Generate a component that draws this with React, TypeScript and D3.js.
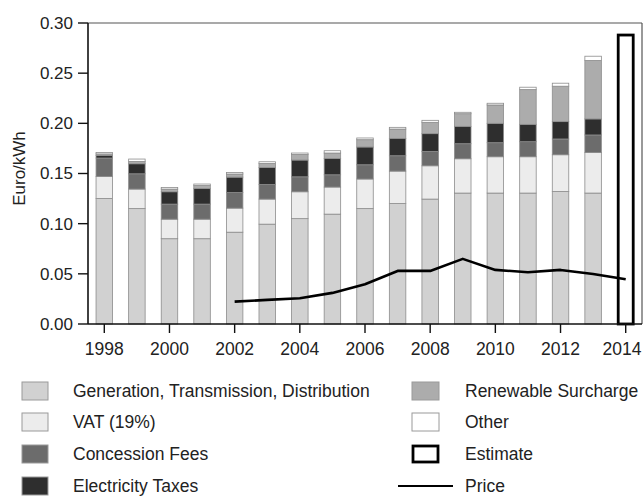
import React from "react";
import * as d3 from "d3";

const years = [1998, 1999, 2000, 2001, 2002, 2003, 2004, 2005, 2006, 2007, 2008, 2009, 2010, 2011, 2012, 2013];
const generation = [0.125, 0.115, 0.085, 0.085, 0.0915, 0.0995, 0.105, 0.1095, 0.115, 0.12, 0.1245, 0.1305, 0.1305, 0.1305, 0.132, 0.1305];
const vat = [0.022, 0.0195, 0.0195, 0.0195, 0.024, 0.025, 0.0268, 0.027, 0.0295, 0.0324, 0.0332, 0.0342, 0.0362, 0.0362, 0.0367, 0.0405];
const concession = [0.0184, 0.0152, 0.015, 0.015, 0.0155, 0.0145, 0.0149, 0.0122, 0.0142, 0.0153, 0.0143, 0.015, 0.014, 0.015, 0.0157, 0.0174];
const electricityTax = [0.0026, 0.01, 0.0123, 0.0155, 0.0154, 0.017, 0.0167, 0.0163, 0.0177, 0.0173, 0.0177, 0.0173, 0.0193, 0.0173, 0.0173, 0.016];
const renewable = [0.0015, 0.0023, 0.0027, 0.003, 0.0031, 0.004, 0.0056, 0.0054, 0.0073, 0.0093, 0.0113, 0.0126, 0.0183, 0.0346, 0.0353, 0.0582];
const other = [0.0015, 0.0024, 0.0015, 0.0015, 0.0015, 0.0017, 0.0014, 0.0023, 0.0017, 0.0017, 0.002, 0.0014, 0.0017, 0.0024, 0.003, 0.0043];

const priceYears = [2002, 2003, 2004, 2005, 2006, 2007, 2008, 2009, 2010, 2011, 2012, 2013, 2014];
const priceValues = [0.0223, 0.024, 0.0257, 0.031, 0.0396, 0.0529, 0.0529, 0.0649, 0.0539, 0.0516, 0.0539, 0.0499, 0.0446];

const estimateYear = 2014;
const estimateValue = 0.288;

const yTicks = [0, 0.05, 0.1, 0.15, 0.2, 0.25, 0.3];
const xTickYears = [1998, 2000, 2002, 2004, 2006, 2008, 2010, 2012, 2014];

const seriesNames = ["Generation, Transmission, Distribution", "VAT (19%)", "Concession Fees", "Electricity Taxes", "Renewable Surcharge", "Other"];
const seriesColors = ["#d1d1d1", "#ececec", "#6c6c6c", "#2e2e2e", "#acacac", "#ffffff"];
const seriesValues = [generation, vat, concession, electricityTax, renewable, other];

const FONT = "'Liberation Sans', Arial, Helvetica, sans-serif";

export default function App() {
  const left = 88, right = 642, top = 23, bottom = 324;
  const x = d3.scaleLinear().domain([1997.5, 2014.5]).range([left, right]);
  const y = d3.scaleLinear().domain([0, 0.3]).range([bottom, top]);
  const barW = 16.5;

  const table = years.map((yr, i) => {
    const row: any = { year: yr };
    seriesNames.forEach((n, k) => (row[n] = seriesValues[k][i]));
    return row;
  });
  const stacked = d3.stack().keys(seriesNames)(table);

  const line = d3
    .line<number>()
    .x((_, i) => x(priceYears[i]))
    .y((v) => y(v));

  const legendRows = [391, 422, 454, 486];
  const legendLeft = seriesNames.slice(0, 4);
  const legendRight = [
    { label: "Renewable Surcharge", kind: "fill", color: seriesColors[4] },
    { label: "Other", kind: "fill", color: seriesColors[5] },
    { label: "Estimate", kind: "estimate", color: "#fff" },
    { label: "Price", kind: "line", color: "#000" },
  ];

  return (
    <svg
      width={643}
      height={496}
      style={{ position: "absolute", left: 0, top: 0, background: "#fff" }}
      fontFamily={FONT}
    >
      {/* bars */}
      {stacked.map((layer, k) => (
        <g key={k}>
          {layer.map((d, i) => (
            <rect
              key={i}
              x={x(years[i]) - barW / 2}
              y={y(d[1])}
              width={barW}
              height={Math.max(0, y(d[0]) - y(d[1]))}
              fill={seriesColors[k]}
              stroke="#8c8c8c"
              strokeWidth={0.8}
            />
          ))}
        </g>
      ))}
      {/* estimate */}
      <rect
        x={x(estimateYear) - 7.5}
        y={y(estimateValue)}
        width={15}
        height={y(0) - y(estimateValue)}
        fill="none"
        stroke="#000"
        strokeWidth={2.8}
      />
      {/* price line */}
      <path d={line(priceValues) || ""} fill="none" stroke="#000" strokeWidth={2.6} strokeLinejoin="round" />

      {/* frame */}
      <line x1={left} x2={right} y1={top} y2={top} stroke="#555" strokeWidth={1.2} />
      <line x1={right} x2={right} y1={top} y2={bottom} stroke="#555" strokeWidth={1.2} />
      <line x1={left} x2={right} y1={bottom} y2={bottom} stroke="#111" strokeWidth={1.6} />
      <line x1={left} x2={left} y1={top} y2={bottom} stroke="#111" strokeWidth={1.6} />

      {/* y axis */}
      {yTicks.map((t) => (
        <g key={t}>
          <line x1={left - 10} x2={left} y1={y(t)} y2={y(t)} stroke="#111" strokeWidth={1.4} />
          <text x={left - 15} y={y(t)} dy="0.35em" textAnchor="end" fontSize={17} fill="#222">
            {t.toFixed(2)}
          </text>
        </g>
      ))}
      <text
        transform={`translate(25, ${(top + bottom) / 2 - 5}) rotate(-90)`}
        textAnchor="middle"
        fontSize={17}
        fill="#222"
      >
        Euro/kWh
      </text>

      {/* x axis */}
      {xTickYears.map((t) => (
        <g key={t}>
          <line x1={x(t)} x2={x(t)} y1={bottom} y2={bottom + 9} stroke="#111" strokeWidth={1.4} />
          <text x={Math.min(x(t), 622)} y={349} dy="0.35em" textAnchor="middle" fontSize={17.5} fill="#222">
            {t}
          </text>
        </g>
      ))}

      {/* legend */}
      {legendLeft.map((name, i) => (
        <g key={name}>
          <rect x={22} y={legendRows[i] - 9} width={26} height={18} fill={seriesColors[i]} stroke="#9a9a9a" strokeWidth={1} />
          <text x={73} y={legendRows[i]} dy="0.35em" fontSize={17.5} fill="#222">
            {name}
          </text>
        </g>
      ))}
      {legendRight.map((it, i) => (
        <g key={it.label}>
          {it.kind === "fill" && (
            <rect x={412} y={legendRows[i] - 9} width={27} height={18} fill={it.color} stroke="#9a9a9a" strokeWidth={1} />
          )}
          {it.kind === "estimate" && (
            <rect x={413} y={legendRows[i] - 8} width={25} height={16} fill="#fff" stroke="#000" strokeWidth={2.8} />
          )}
          {it.kind === "line" && (
            <line x1={398} x2={453} y1={legendRows[i]} y2={legendRows[i]} stroke="#000" strokeWidth={2} />
          )}
          <text x={465} y={legendRows[i]} dy="0.35em" fontSize={17.5} fill="#222">
            {it.label}
          </text>
        </g>
      ))}
    </svg>
  );
}
